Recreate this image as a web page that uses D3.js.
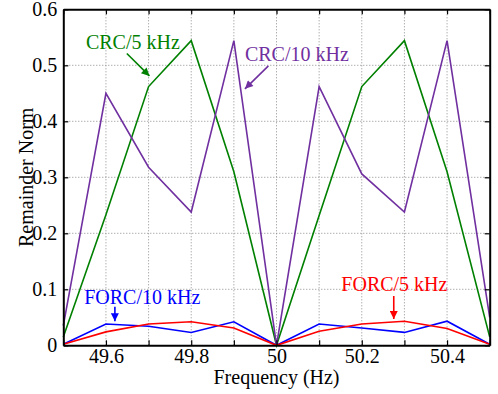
<!DOCTYPE html>
<html>
<head>
<meta charset="utf-8">
<script src="https://cdn.jsdelivr.net/npm/d3@7"></script>
<style>
  html, body { margin: 0; padding: 0; background: #fff; }
  svg text { font-family: "Liberation Serif", "Times New Roman", Times, serif; }
</style>
</head>
<body>
<svg id="chart" width="498" height="394"></svg>
<script>
// Frequency sweep (Hz)
const frequencies = [49.5, 49.6, 49.7, 49.8, 49.9, 50.0, 50.1, 50.2, 50.3, 50.4, 50.5];

// Remainder norm per controller / sampling rate
const crc5k   = [0.015, 0.233, 0.462, 0.544, 0.31, 0.0, 0.232, 0.462, 0.544, 0.31, 0.015];
const crc10k  = [0.035, 0.45, 0.318, 0.238, 0.544, 0.0, 0.462, 0.306, 0.238, 0.544, 0.05];
const forc10k = [0.002, 0.038, 0.034, 0.023, 0.042, 0.0, 0.038, 0.031, 0.023, 0.043, 0.002];
const forc5k  = [0.002, 0.024, 0.038, 0.042, 0.031, 0.0, 0.025, 0.038, 0.043, 0.030, 0.002];

const seriesNames  = ["CRC/5 kHz", "CRC/10 kHz", "FORC/10 kHz", "FORC/5 kHz"];
const seriesValues = [crc5k, crc10k, forc10k, forc5k];
const seriesColors = ["#008000", "#7030a0", "#0000ff", "#ff0000"];

// Axis ticks
const xTicks = [49.5, 49.6, 49.7, 49.8, 49.9, 50.0, 50.1, 50.2, 50.3, 50.4, 50.5];
const xTickLabels = ["", "49.6", "", "49.8", "", "50", "", "50.2", "", "50.4", ""];
const yTicks = [0, 0.1, 0.2, 0.3, 0.4, 0.5, 0.6];
const yTickLabels = ["0", "0.1", "0.2", "0.3", "0.4", "0.5", "0.6"];

// Callout labels: text anchor and arrow (tail -> head) in data space
const callouts = [
  { name: "CRC/5 kHz",   tx: 49.553, ty: 0.530, ax0: 49.649, ay0: 0.521, ax1: 49.702, ay1: 0.481 },
  { name: "CRC/10 kHz",  tx: 49.926, ty: 0.508, ax0: 49.981, ay0: 0.499, ax1: 49.926, ay1: 0.458 },
  { name: "FORC/10 kHz", tx: 49.549, ty: 0.073, ax0: 49.621, ay0: 0.069, ax1: 49.621, ay1: 0.043 },
  { name: "FORC/5 kHz",  tx: 50.152, ty: 0.097, ax0: 50.275, ay0: 0.088, ax1: 50.275, ay1: 0.047 }
];

const FONT = "'Liberation Serif', 'Times New Roman', Times, serif";

const svg = d3.select("#chart");
const margin = { left: 63.3, right: 8.3, top: 9.3, bottom: 48.7 };
const W = 498, H = 394;
const x = d3.scaleLinear().domain([49.5, 50.5]).range([margin.left, W - margin.right]);
const y = d3.scaleLinear().domain([0, 0.6]).range([H - margin.bottom, margin.top]);

const x0 = x.range()[0], x1 = x.range()[1];
const yb = y.range()[0], yt = y.range()[1];

// Dotted grid
const grid = svg.append("g").attr("stroke", "#8c8c8c").attr("stroke-width", 1)
  .attr("stroke-dasharray", "1,2");
grid.selectAll(".gx").data(xTicks.slice(1, -1)).join("line")
  .attr("x1", d => x(d)).attr("x2", d => x(d)).attr("y1", yb).attr("y2", yt);
grid.selectAll(".gy").data(yTicks.slice(1, -1)).join("line")
  .attr("y1", d => y(d)).attr("y2", d => y(d)).attr("x1", x0).attr("x2", x1);

// Series lines
const line = d3.line().x((d, i) => x(frequencies[i])).y(d => y(d));
svg.append("g").selectAll("path").data(seriesValues).join("path")
  .attr("d", d => line(d))
  .attr("fill", "none")
  .attr("stroke", (d, i) => seriesColors[i])
  .attr("stroke-width", 1.6)
  .attr("stroke-linejoin", "miter");

// Axes with inward ticks on all four sides
const tickLen = 5;
const fmtX = d => xTickLabels[xTicks.findIndex(t => Math.abs(t - d) < 1e-9)];
const fmtY = d => yTickLabels[yTicks.findIndex(t => Math.abs(t - d) < 1e-9)];

const axBottom = svg.append("g").attr("transform", `translate(0,${yb})`)
  .call(d3.axisBottom(x).tickValues(xTicks).tickFormat(fmtX).tickSizeInner(-tickLen).tickSizeOuter(0).tickPadding(3));
const axTop = svg.append("g").attr("transform", `translate(0,${yt})`)
  .call(d3.axisTop(x).tickValues(xTicks).tickFormat("").tickSizeInner(-tickLen).tickSizeOuter(0));
const axLeft = svg.append("g").attr("transform", `translate(${x0},0)`)
  .call(d3.axisLeft(y).tickValues(yTicks).tickFormat(fmtY).tickSizeInner(-tickLen).tickSizeOuter(0).tickPadding(6));
const axRight = svg.append("g").attr("transform", `translate(${x1},0)`)
  .call(d3.axisRight(y).tickValues(yTicks).tickFormat("").tickSizeInner(-tickLen).tickSizeOuter(0));

[axBottom, axTop, axLeft, axRight].forEach(g => {
  g.attr("font-family", FONT).attr("font-size", 20);
  g.select(".domain").attr("stroke", "#000").attr("stroke-width", 2);
  g.selectAll(".tick line").attr("stroke", "#000").attr("stroke-width", 1.2);
  g.selectAll(".tick text").attr("fill", "#000");
});

// Axis titles
svg.append("text")
  .attr("x", (x0 + x1) / 2).attr("y", 383.5)
  .attr("text-anchor", "middle")
  .attr("font-family", FONT).attr("font-size", 20).attr("fill", "#000")
  .text("Frequency (Hz)");
svg.append("text")
  .attr("transform", `translate(32.5,${(yb + yt) / 2}) rotate(-90)`)
  .attr("text-anchor", "middle")
  .attr("font-family", FONT).attr("font-size", 20).attr("fill", "#000")
  .text("Remainder Norm");

// Callouts with arrows
const defs = svg.append("defs");
seriesNames.forEach((n, i) => {
  defs.append("marker")
    .attr("id", "arrow" + i)
    .attr("viewBox", "0 0 10 10")
    .attr("refX", 10).attr("refY", 5)
    .attr("markerWidth", 10).attr("markerHeight", 8)
    .attr("markerUnits", "userSpaceOnUse")
    .attr("orient", "auto")
    .append("path").attr("d", "M0,0 L10,5 L0,10 Z").attr("fill", seriesColors[i]);
});

const cg = svg.append("g");
callouts.forEach(c => {
  const i = seriesNames.indexOf(c.name);
  cg.append("text")
    .attr("x", x(c.tx)).attr("y", y(c.ty))
    .attr("font-family", FONT).attr("font-size", 20)
    .attr("fill", seriesColors[i])
    .text(c.name);
  cg.append("line")
    .attr("x1", x(c.ax0)).attr("y1", y(c.ay0))
    .attr("x2", x(c.ax1)).attr("y2", y(c.ay1))
    .attr("stroke", seriesColors[i]).attr("stroke-width", 1.6)
    .attr("marker-end", `url(#arrow${i})`);
});
</script>
</body>
</html>
